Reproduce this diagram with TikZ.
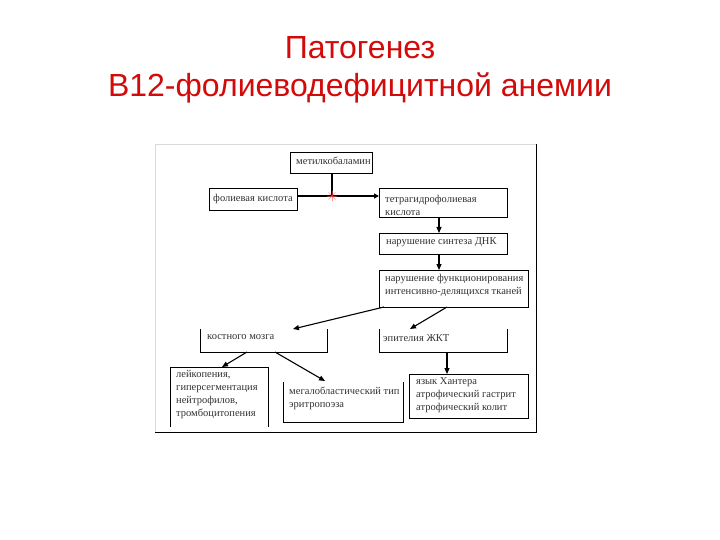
\documentclass[tikz,border=0pt]{standalone}
\usepackage{fontspec}
\setmainfont{Liberation Serif}
\newfontfamily\titlefont{Liberation Sans}
\usetikzlibrary{arrows.meta}
\definecolor{titlered}{RGB}{210,10,10}
\definecolor{txtgray}{RGB}{50,50,50}
\tikzset{
  box/.style={draw=black, line width=0.9pt, inner sep=0pt, anchor=north west},
  openbox/.style={draw=none, inner sep=0pt, anchor=north west},
  txt/.style={inner sep=0pt, anchor=north west, align=left, text=txtgray,
    font=\fontsize{10.5}{13}\selectfont},
  arr/.style={line width=1.1pt, -{Triangle[length=6pt,width=5pt]}},
  thickarr/.style={line width=1.8pt, -{Triangle[length=5pt,width=5pt]}},
  title/.style={inner sep=0pt, text=titlered, font=\titlefont\fontsize{32}{40}\selectfont, align=center}
}
\begin{document}
\begin{tikzpicture}[x=1pt,y=-1pt]
\useasboundingbox (0,0) rectangle (720,540);
% title
\node[title] (T1) at (360,48) {Патогенез};
\node[title] (T2) at (360,88) {В12-фолиеводефицитной анемии};
% frame
\draw[black!15, line width=0.8pt] (155,432) -- (155,144) -- (536,144);
\draw[black, line width=1pt] (155,432) -- (536,432) -- (536,144);
% boxes
\node[box, minimum width=82, minimum height=21] (A) at (290,152) {};
\node[box, minimum width=88, minimum height=22] (B) at (209,188) {};
\node[box, minimum width=128, minimum height=29] (C) at (379,188) {};
\node[box, minimum width=128, minimum height=21] (D) at (379,233) {};
\node[box, minimum width=149, minimum height=37] (E) at (379,270) {};
\node[openbox, minimum width=127, minimum height=23] (F) at (200,329) {};
\node[openbox, minimum width=128, minimum height=23] (G) at (379,329) {};
\node[openbox, minimum width=98, minimum height=60] (H) at (170,367) {};
\node[openbox, minimum width=120, minimum height=40] (I) at (283,382) {};
\node[box, minimum width=119, minimum height=44] (J) at (409,374) {};
\draw[line width=0.9pt] (F.north west) -- (F.south west) -- (F.south east) -- (F.north east);
\draw[line width=0.9pt] (G.north west) -- (G.south west) -- (G.south east) -- (G.north east);
\draw[line width=0.9pt] (H.south west) -- (H.north west) -- (H.north east) -- (H.south east);
\draw[line width=0.9pt] (I.north west) -- (I.south west) -- (I.south east) -- (I.north east);
% texts
\node[txt] (At) at (296,157) {метилкобаламин};
\node[txt] (Bt) at (213,194) {фолиевая кислота};
\node[txt] (Ct) at (385,195) {тетрагидрофолиевая\\кислота};
\node[txt] (Dt) at (386,237) {нарушение синтеза ДНК};
\node[txt] (Et) at (385,274) {нарушение функционирования\\интенсивно-делящихся тканей};
\node[txt] (Ft) at (207,334) {костного мозга};
\node[txt] (Gt) at (383,334) {эпителия ЖКТ};
\node[txt] (Ht) at (176,370) {лейкопения,\\гиперсегментация\\нейтрофилов,\\тромбоцитопения};
\node[txt] (It) at (289,387) {мегалобластический тип\\эритропоэза};
\node[txt] (Jt) at (416,377) {язык Хантера\\атрофический гастрит\\атрофический колит};
% connectors
\coordinate (X) at (332,196);
\draw[thickarr] (B.east |- X) -- (C.west |- X);
\draw[line width=1.8pt] (A.south -| X) -- (X);
\foreach \a in {0,45,90,135} {
  \draw[red!70, opacity=0.6, line width=0.6pt] (X) ++(\a:5) -- ++(\a+180:10);
}
\draw[arr] (439,217) -- (439,233);
\draw[arr] (D.south -| 439,0) -- (E.north -| 439,0);
\draw[arr] (384,307) -- (293,329);
\draw[arr] (447,307) -- (410,329);
\draw[arr] (247,352) -- (222,367);
\draw[arr] (275,352) -- (325,381);
\draw[arr] (G.south -| 447,0) -- (J.north -| 447,0);
\end{tikzpicture}
\end{document}
